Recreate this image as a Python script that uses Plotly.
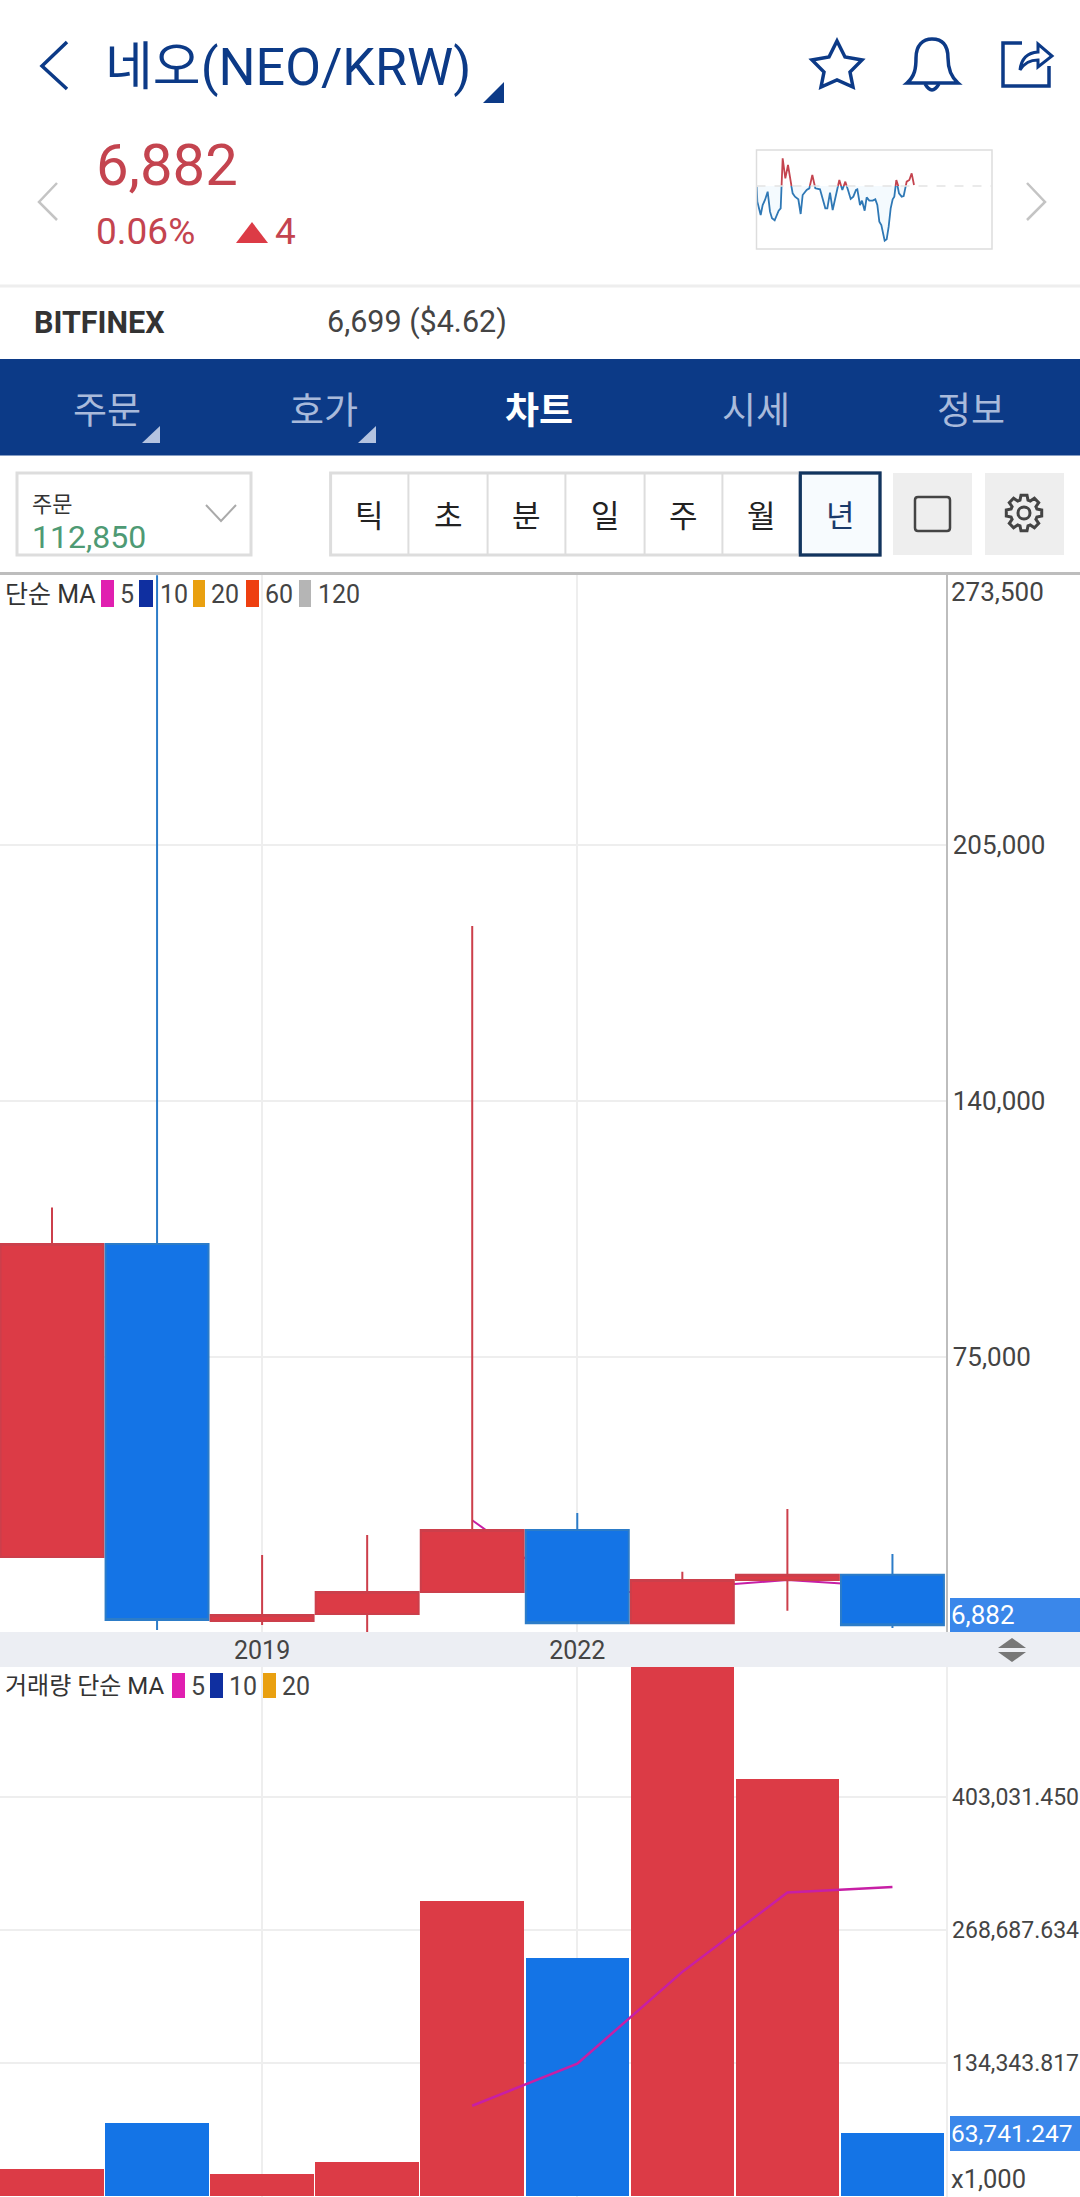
import math
import re
import plotly.graph_objects as go

W, H = 1080, 2197
PANE_R = 945.5
FONT = 'Roboto, "Noto Sans CJK KR", sans-serif'
NAVY = '#0C3A87'
RED = '#DC3B46'
BLUE = '#1474E6'
TEXT_RED = '#C4444F'
GRID = '#EEEEEE'

# ---------------- data ----------------
years = [2017, 2018, 2019, 2020, 2021, 2022, 2023, 2024, 2025]
opens = [24220, 103690, 8000, 9750, 15335, 31075, 7385, 18380, 19720]
highs = [112958, 273500, 24730, 29800, 184400, 35400, 20500, 36400, 24980]
lows = [24000, 5690, 6950, 5000, 15150, 7200, 7385, 10600, 6200]
closes = [103690, 8224, 9500, 15335, 31075, 7385, 18380, 19720, 6882]

ma_years = [2021, 2022, 2023, 2024, 2025]
price_ma5 = [33565, 14304, 16335, 18379, 16688]

volumes = [27270, 74000, 22200, 34340, 297950, 240380, 537000, 421170, 63741.247]
volume_ma5 = [91152, 133574, 226374, 306500, 312000]

price_ticks = [75000, 140000, 205000]
volume_ticks = [134343.817, 268687.634, 403031.450]
year_ticks = [2019, 2022]
year_labels = ['2019', '2022']

spark_x = [50, 52, 62, 68, 75, 83, 90, 96, 104, 110, 116, 122, 128, 136, 144, 150, 158, 165, 175, 182,
           188, 200, 208, 217, 226, 240, 250, 256, 262, 270, 278, 288, 298, 307, 316, 324, 332, 340,
           348, 352, 360, 366, 374, 380, 388, 398, 406, 412, 418, 424, 434, 440, 446, 452, 458, 463,
           469, 477, 485, 491, 500, 508, 515, 522]
spark_y = [187, 142, 102, 132, 147, 172, 112, 92, 86, 102, 115, 122, 272, 212, 252, 212, 167, 157, 149, 105,
           162, 177, 182, 222, 182, 179, 142, 122, 122, 169, 117, 162, 207, 177, 202, 177, 150, 157,
           177, 179, 132, 145, 115, 155, 145, 145, 149, 132, 82, 72, 25, 29, 67, 122, 149, 157,
           207, 167, 157, 159, 202, 207, 227, 192]
SPARK_BASE = 189

tabs = ['주문', '호가', '차트', '시세', '정보']
tab_x = [107, 324, 539, 755.5, 971]
periods = ['틱', '초', '분', '일', '주', '월', '년']
period_edges = [330.6, 408.4, 487.6, 565.4, 644.6, 722.4, 800.3, 880]


# ---------------- helpers: everything outside the panes is placed in screen pixels ----------------
def px(x):
    return x / W


def py(y):
    return 1 - y / H


def dom(top, bottom):
    return [py(bottom), py(top)]


def svg(path):
    """pixel svg path -> paper svg path"""
    out, is_x = [], True
    for tok in re.findall(r'[A-Za-z]|-?[\d.]+', path):
        if tok.isalpha():
            out.append(tok)
            is_x = True
        else:
            out.append(f'{px(float(tok)):.5f}' if is_x else f'{py(float(tok)):.5f}')
            is_x = not is_x
    return ' '.join(out)


shapes, annotations = [], []


def shape_path(path, fill=None, color=None, width=0, layer='above'):
    shapes.append(dict(type='path', xref='paper', yref='paper', path=svg(path), layer=layer,
                       fillcolor=fill or 'rgba(0,0,0,0)',
                       line=dict(color=color or 'rgba(0,0,0,0)', width=width)))


def rect(x0, y0, x1, y1, fill=None, color=None, width=0, layer='above'):
    shapes.append(dict(type='rect', xref='paper', yref='paper', x0=px(x0), x1=px(x1), y0=py(y0), y1=py(y1),
                       layer=layer, fillcolor=fill or 'rgba(0,0,0,0)',
                       line=dict(color=color or 'rgba(0,0,0,0)', width=width)))


def label(x, y, text, size, color, anchor='left', bold=False):
    annotations.append(dict(xref='paper', yref='paper', x=px(x), y=py(y), text=f'<b>{text}</b>' if bold else text,
                            showarrow=False, xanchor=anchor, yanchor='middle', borderpad=0, borderwidth=0,
                            font=dict(family=FONT, size=size, color=color)))


# ---------------- header ----------------
shape_path('M 67 42 L 42 66 L 67 89', color=NAVY, width=3.5)
label(105, 68, '네오(NEO/KRW)', 52, NAVY)
shape_path('M 504 82 L 504 103 L 483 103 Z', fill=NAVY)
shape_path('M 837 41 L 845 57 L 862 60 L 850 72 L 853 87 L 837 80 L 821 87 L 824 72 L 812 60 L 829 57 Z',
           color=NAVY, width=3.5)
shape_path('M 907 83 C 915 76 916 68 916 58 C 916 45 923 39 932 39 C 942 39 948 45 948 58 '
           'C 948 68 950 76 958 83 Z', color=NAVY, width=3.5)
shape_path('M 925 84 Q 932 96 939 84', color=NAVY, width=3.5)
shape_path('M 1022 43 L 1003 43 L 1003 86 L 1049 86 L 1049 66', color=NAVY, width=3.5)
shape_path('M 1020 70 Q 1022 53 1038 52 L 1038 44 L 1052 56 L 1038 67 L 1038 60 Q 1026 60 1020 70 Z',
           color=NAVY, width=3)

label(96, 165, '6,882', 58, TEXT_RED)
label(96, 232, '0.06%', 37, TEXT_RED)
shape_path('M 252 222 L 268 243 L 236 243 Z', fill=RED)
label(275, 232, '4', 37, TEXT_RED)
shape_path('M 57 183 L 39 202 L 57 220', color='#C4C4C4', width=2.5)
shape_path('M 1027 183 L 1045 202 L 1027 220', color='#C4C4C4', width=2.5)

rect(756.5, 150, 992, 249, color='#DDDDDD', width=1.5)
shape_path('M 756.5 186 L 992 186', color='#E4E4E4', width=1.5)
shapes[-1]['line']['dash'] = 'dash'

rect(0, 284.5, W, 287.5, fill='#EEEEEE')
label(34, 322, 'BITFINEX', 30.5, '#333333', bold=True)
label(327, 322, '6,699 ($4.62)', 30.5, '#444444')

# ---------------- tab bar ----------------
rect(0, 359, W, 455.5, fill=NAVY)
for name, cx in zip(tabs, tab_x):
    active = name == '차트'
    label(cx, 411, name, 37, '#FFFFFF' if active else '#A9BADB', anchor='center', bold=active)
shape_path('M 160 426 L 160 443 L 142 443 Z', fill='#B4C3E0')
shape_path('M 376 426 L 376 443 L 358 443 Z', fill='#B4C3E0')

# ---------------- toolbar ----------------
rect(17, 473, 251, 555, color='#DDDDDD', width=3)
label(32, 504, '주문', 22, '#333333')
label(32, 537, '112,850', 32, '#4E9A74')
shape_path('M 206 505 L 221 521 L 236 505', color='#AAAAAA', width=2)

rect(period_edges[0], 473, period_edges[-1], 555, color='#DDDDDD', width=3)
for i, name in enumerate(periods):
    x0, x1 = period_edges[i], period_edges[i + 1]
    if i:
        shape_path(f'M {x0} 473 L {x0} 555', color='#DDDDDD', width=2)
    label((x0 + x1) / 2, 517, name, 31, '#1A3A6A' if name == '년' else '#222222', anchor='center')
rect(period_edges[-2], 473, period_edges[-1], 555, fill='#F7FBFE', color='#12355F', width=3, layer='below')
shapes.append(dict(shapes[-1], layer='above', fillcolor='rgba(0,0,0,0)'))

rect(893, 473, 972, 555, fill='#EEEEEE')
rect(985, 473, 1064, 555, fill='#EEEEEE')
shape_path('M 918 497 L 947 497 Q 950 497 950 500 L 950 528 Q 950 531 947 531 L 918 531 '
           'Q 915 531 915 528 L 915 500 Q 915 497 918 497 Z', color='#444444', width=2.5)
gear = []
for k in range(8):
    a = k * math.pi / 4
    for da, r in [(-0.30, 13.5), (-0.17, 18), (0.17, 18), (0.30, 13.5)]:
        gear.append(f'{1024 + r * math.cos(a + da):.1f} {513 + r * math.sin(a + da):.1f}')
shape_path('M ' + ' L '.join(gear) + ' Z', color='#444444', width=3)
shape_path('M 1018 513 C 1018 505 1030 505 1030 513 C 1030 521 1018 521 1018 513 Z', color='#444444', width=3)

# ---------------- chart furniture ----------------
rect(0, 572, W, 575, fill='#BDBDBD')
rect(0, 1632, W, 1667, fill='#ECEEF3', layer='below')
rect(950, 1598, W, 1632, fill='#3A87EA')
label(951, 1615, '6,882', 26, '#FFFFFF')
shape_path('M 1012 1638 L 1026 1648 L 998 1648 Z', fill='#777777')
shape_path('M 998 1652 L 1026 1652 L 1012 1662 Z', fill='#777777')
rect(950, 2116, W, 2151, fill='#3A87EA')
label(951, 2133, '63,741.247', 24.5, '#FFFFFF')
label(951, 2179, 'x1,000', 25.5, '#444444')
annotations.append(dict(xref='paper', yref='y', x=px(951), y=273500, yshift=-17, text='273,500', showarrow=False,
                        xanchor='left', yanchor='middle', borderpad=0, borderwidth=0,
                        font=dict(family=FONT, size=26, color='#444444')))

label(5, 594, '단순 MA', 25, '#333333')
for x0, x1, c in [(101, 114, '#E01FB0'), (139, 153, '#0F2FA0'), (193, 205, '#E9A010'), (246, 259, '#EE3F10'),
                  (299, 311, '#B5B5B5')]:
    rect(x0, 580, x1, 607, fill=c)
for x0, t in [(120, '5'), (160, '10'), (211, '20'), (265, '60'), (318, '120')]:
    label(x0, 594, t, 25, '#444444')

label(5, 1686, '거래량 단순 MA', 24, '#333333')
for x0, x1, c in [(172, 185, '#E01FB0'), (210, 223, '#0F2FA0'), (263, 276, '#E9A010')]:
    rect(x0, 1673, x1, 1698, fill=c)
for x0, t in [(191, '5'), (229, '10'), (282, '20')]:
    label(x0, 1686, t, 25, '#444444')

# ---------------- traces ----------------
fig = go.Figure()
fig.add_trace(go.Scatter(x=ma_years, y=price_ma5, mode='lines', xaxis='x', yaxis='y',
                         line=dict(color='#C71FA5', width=2), showlegend=False))
fig.add_trace(go.Candlestick(
    x=years, open=opens, high=highs, low=lows, close=closes, xaxis='x', yaxis='y2', showlegend=False,
    whiskerwidth=0,
    increasing=dict(fillcolor=RED, line=dict(color='#CC3F4B', width=2)),
    decreasing=dict(fillcolor=BLUE, line=dict(color='#2C7CC8', width=2)),
))
bar_colors = [RED if c >= o else BLUE for o, c in zip(opens, closes)]
fig.add_trace(go.Bar(x=years, y=volumes, marker=dict(color=bar_colors, line=dict(width=0)), width=0.985,
                     xaxis='x2', yaxis='y3', showlegend=False))
fig.add_trace(go.Scatter(x=ma_years, y=volume_ma5, mode='lines', xaxis='x2', yaxis='y3',
                         line=dict(color='#C71FA5', width=2.5), showlegend=False))

# sparkline: same values on two stacked axes, split at the previous close so the colours change there
fig.add_trace(go.Scatter(x=[spark_x[0], spark_x[-1]], y=[SPARK_BASE, SPARK_BASE], mode='lines',
                         line=dict(width=0), xaxis='x3', yaxis='y4', showlegend=False))
fig.add_trace(go.Scatter(x=spark_x, y=spark_y, mode='lines', fill='tonexty', fillcolor='rgba(150,205,245,0.10)',
                         line=dict(color='#2F78B5', width=1.8), xaxis='x3', yaxis='y4', showlegend=False))
fig.add_trace(go.Scatter(x=spark_x, y=spark_y, mode='lines', line=dict(color='#C4444F', width=1.8),
                         xaxis='x4', yaxis='y5', showlegend=False))

tick_font = dict(family=FONT, size=26, color='#444444')
pane_x = [0, PANE_R / W]
x_range = [2016.505, 2025.505]
y_range = [5177, 274058]
hidden = dict(visible=False, fixedrange=True)

fig.update_layout(
    width=W, height=H, margin=dict(l=0, r=0, t=0, b=0), autosize=False,
    paper_bgcolor='white', plot_bgcolor='white', showlegend=False,
    boxgap=0.02, boxgroupgap=0, boxmode='group', bargap=0,
    shapes=shapes, annotations=annotations,
    xaxis=dict(domain=pane_x, range=x_range, anchor='y', tickmode='array', tickvals=year_ticks, ticktext=year_labels,
               showgrid=True, gridcolor=GRID, gridwidth=2, zeroline=False, showline=False, ticks='',
               ticklabelstandoff=1, tickfont=dict(family=FONT, size=25, color='#444444'),
               rangeslider=dict(visible=False), fixedrange=True),
    yaxis=dict(domain=dom(573, 1632), range=y_range, anchor='x', side='right', tickmode='array', tickvals=price_ticks,
               tickformat=',', tickfont=tick_font, showgrid=True, gridcolor=GRID, gridwidth=2, zeroline=False,
               showline=True, linecolor='#BDBDBD', linewidth=2, ticks='', fixedrange=True),
    yaxis2=dict(overlaying='y', range=y_range, anchor='x', **hidden),
    xaxis2=dict(domain=pane_x, range=x_range, anchor='y3', tickmode='array', tickvals=year_ticks, showticklabels=False,
                showgrid=True, gridcolor=GRID, gridwidth=2, zeroline=False, ticks='', fixedrange=True),
    yaxis3=dict(domain=dom(1667, 2197), range=[-1010, 534290], anchor='x2', side='right', tickmode='array',
                tickvals=volume_ticks, tickformat=',.3f', tickfont=dict(family=FONT, size=23, color='#444444'),
                showgrid=True, gridcolor=GRID, gridwidth=2, zeroline=False, showline=True, linecolor=GRID, linewidth=2,
                ticks='', fixedrange=True),
    xaxis3=dict(domain=[px(756.5), px(992)], range=[49.5, 756], anchor='y4', **hidden),
    yaxis4=dict(domain=dom(186, 249), range=[0, SPARK_BASE], anchor='x3', **hidden),
    xaxis4=dict(domain=[px(756.5), px(992)], range=[49.5, 756], anchor='y5', **hidden),
    yaxis5=dict(domain=dom(150, 186), range=[SPARK_BASE, 297], anchor='x4', **hidden),
)

fig.write_html('out.html', config=dict(displayModeBar=False),
               post_script="document.body.style.margin='0';document.documentElement.style.overflow='hidden';")
